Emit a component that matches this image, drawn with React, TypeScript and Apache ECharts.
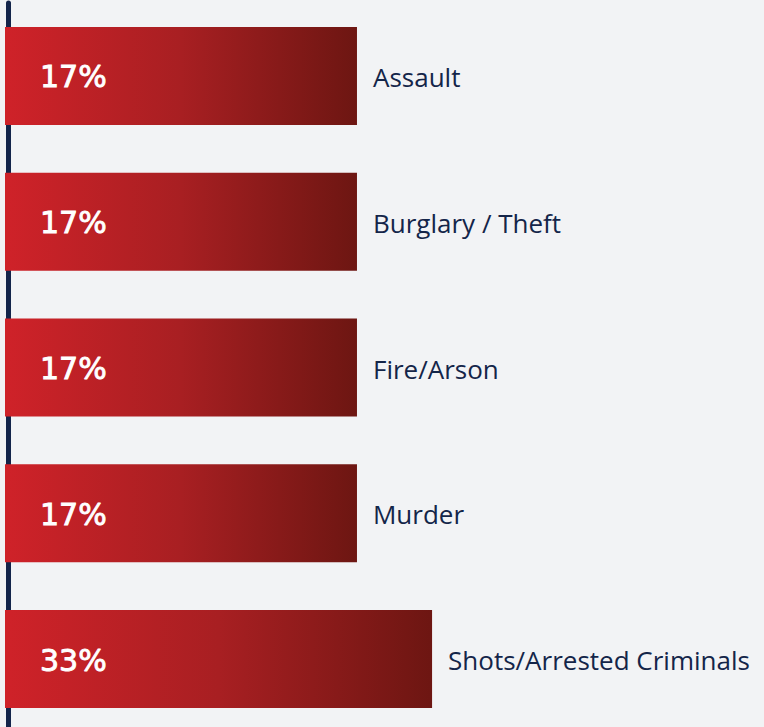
import React, { useEffect, useRef } from "react";
import * as echarts from "echarts";

const categories = ["Assault", "Burglary / Theft", "Fire/Arson", "Murder", "Shots/Arrested Criminals"];
const values = [17, 17, 17, 17, 33];

const X_MIN = -58;
const X_MAX = 100;

export default function App() {
  const ref = useRef<HTMLDivElement>(null);
  useEffect(() => {
    document.body.style.margin = "0";
    document.body.style.background = "#f2f3f5";
    const chart = echarts.init(ref.current!, null, { renderer: "svg" });
    const option: any = {
      animation: false,
      backgroundColor: "#f2f3f5",
      grid: { left: 5, width: 741.5, top: 3, height: 729 },
      xAxis: { type: "value", min: X_MIN, max: X_MAX, show: false },
      yAxis: {
        type: "category",
        inverse: true,
        data: categories,
        offset: -3,
        axisLine: { show: true, onZero: false, lineStyle: { color: "#13244a", width: 5 } },
        axisTick: { show: false },
        axisLabel: { show: false },
        splitLine: { show: false },
      },
      series: [
        {
          type: "custom",
          encode: { x: 0, y: 1 },
          data: values.map((v, i) => [v, i]),
          renderItem: (params: any, api: any) => {
            const v = api.value(0);
            const idx = api.value(1);
            const end = api.coord([v, idx]);
            const start = api.coord([X_MIN, idx]);
            const band = api.size([0, 1])[1];
            const h = band * 0.672;
            return {
              type: "group",
              children: [
                {
                  type: "rect",
                  shape: { x: start[0], y: end[1] - h / 2, width: end[0] - start[0], height: h },
                  style: {
                    fill: new echarts.graphic.LinearGradient(0, 0, 1, 0, [
                      { offset: 0, color: "#cf2229" },
                      { offset: 0.5, color: "#a81f22" },
                      { offset: 1, color: "#6d1612" },
                    ]),
                  },
                },
                {
                  type: "text",
                  x: start[0] + 35,
                  y: end[1] + 1,
                  style: {
                    text: `${v}%`,
                    fill: "#ffffff",
                    stroke: "#ffffff",
                    lineWidth: 0.9,
                    font: '30px "DejaVu Sans"',
                    align: "left",
                    verticalAlign: "middle",
                  },
                },
                {
                  type: "text",
                  x: end[0] + 16,
                  y: end[1] + 1,
                  style: {
                    text: categories[idx],
                    fill: "#142549",
                    font: '26px "Open Sans"',
                    align: "left",
                    verticalAlign: "middle",
                  },
                },
              ],
            };
          },
        },
      ],
    };
    chart.setOption(option);
    return () => chart.dispose();
  }, []);
  return (
    <div style={{ width: 764, height: 727, overflow: "hidden" }}>
      <div ref={ref} style={{ width: 764, height: 740 }} />
    </div>
  );
}
